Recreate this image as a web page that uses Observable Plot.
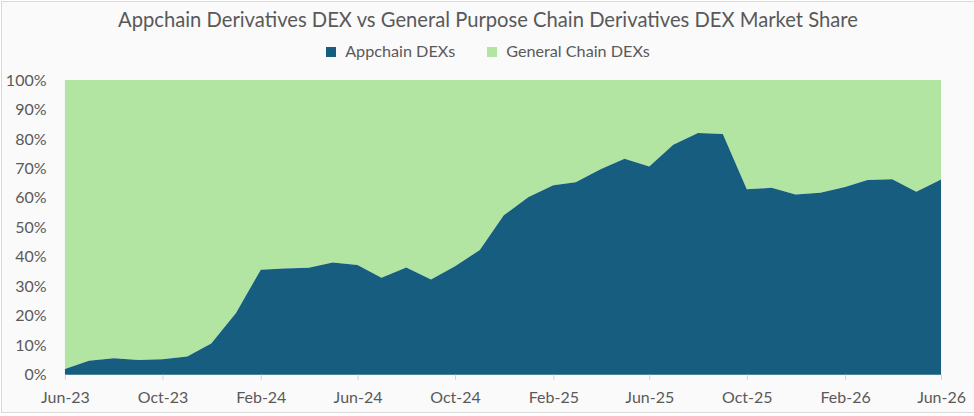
<!DOCTYPE html>
<html><head><meta charset="utf-8">
<script src="https://cdn.jsdelivr.net/npm/d3@7"></script>
<script src="https://cdn.jsdelivr.net/npm/@observablehq/plot@0.6"></script>
<style>
html,body{margin:0;padding:0;background:#fff;}
#wrap{position:relative;width:972px;height:410px;margin:1px;background:#fafafa;border:1px solid #d9d9d9;font-family:Lato,"Open Sans",sans-serif;color:#595959;overflow:hidden;}
#title{position:absolute;top:5px;left:0;width:100%;text-align:center;font-size:20.2px;}
#legend{position:absolute;top:39px;left:0;width:100%;text-align:center;font-size:16.2px;}
#legend span.sw{display:inline-block;width:10px;height:10px;margin-right:9px;vertical-align:0px;}
#legend span.item{margin:0 16px;}
#chart{position:absolute;top:61px;left:-1px;}
</style></head>
<body>
<div id="wrap">
<div id="title">Appchain Derivatives DEX vs General Purpose Chain Derivatives DEX Market Share</div>
<div id="legend"><span class="item"><span class="sw" style="background:#165d80"></span>Appchain DEXs</span><span class="item"><span class="sw" style="background:#b3e5a2"></span>General Chain DEXs</span></div>
<div id="chart"></div>
</div>
<script>
const months = ["2023-06","2023-07","2023-08","2023-09","2023-10","2023-11","2023-12",
"2024-01","2024-02","2024-03","2024-04","2024-05","2024-06","2024-07","2024-08","2024-09","2024-10","2024-11","2024-12",
"2025-01","2025-02","2025-03","2025-04","2025-05","2025-06","2025-07","2025-08","2025-09","2025-10","2025-11","2025-12",
"2026-01","2026-02","2026-03","2026-04","2026-05","2026-06"];
const appchainShare = [1.9,4.7,5.6,5.0,5.2,6.2,10.6,
20.9,35.6,36.0,36.3,38.1,37.2,32.9,36.4,32.3,36.8,42.3,54.1,
60.3,64.3,65.3,69.7,73.3,70.6,78.0,82.0,81.7,62.9,63.4,61.1,
61.7,63.7,66.1,66.3,62.1,66.2];
const yTicks = [0,10,20,30,40,50,60,70,80,90,100];
const xTickMonths = ["2023-06","2023-10","2024-02","2024-06","2024-10","2025-02","2025-06","2025-10","2026-02","2026-06"];

const parse = d3.utcParse("%Y-%m");
const data = months.map((m,i)=>({date:parse(m), app:appchainShare[i]}));
const fmt = d3.utcFormat("%b-%y");

const chart = Plot.plot({
  width: 974,
  height: 346,
  marginTop: 17,
  marginBottom: 34,
  marginLeft: 64,
  marginRight: 33,
  style: {background:"transparent", fontFamily:"Lato, 'Open Sans', sans-serif", fontSize:"16px", color:"#595959"},
  x: {type:"utc", domain:[parse(months[0]), parse(months[months.length-1])], label:null},
  y: {domain:[0,100], label:null},
  marks: [
    Plot.areaY(data, {x:"date", y1:"app", y2:100, fill:"#b3e5a2"}),
    Plot.areaY(data, {x:"date", y1:0, y2:"app", fill:"#165d80"}),
    Plot.axisX({ticks: xTickMonths.map(parse), tickFormat: fmt, tickSize:5, stroke:"#d0d0d0", tickPadding:11, fill:"#595959", fontSize:16}),
    Plot.axisY({ticks: yTicks, tickFormat: d=>d+"%", tickSize:0, tickPadding:19, fill:"#595959", fontSize:16})
  ]
});
document.getElementById("chart").appendChild(chart);
</script>
</body></html>
